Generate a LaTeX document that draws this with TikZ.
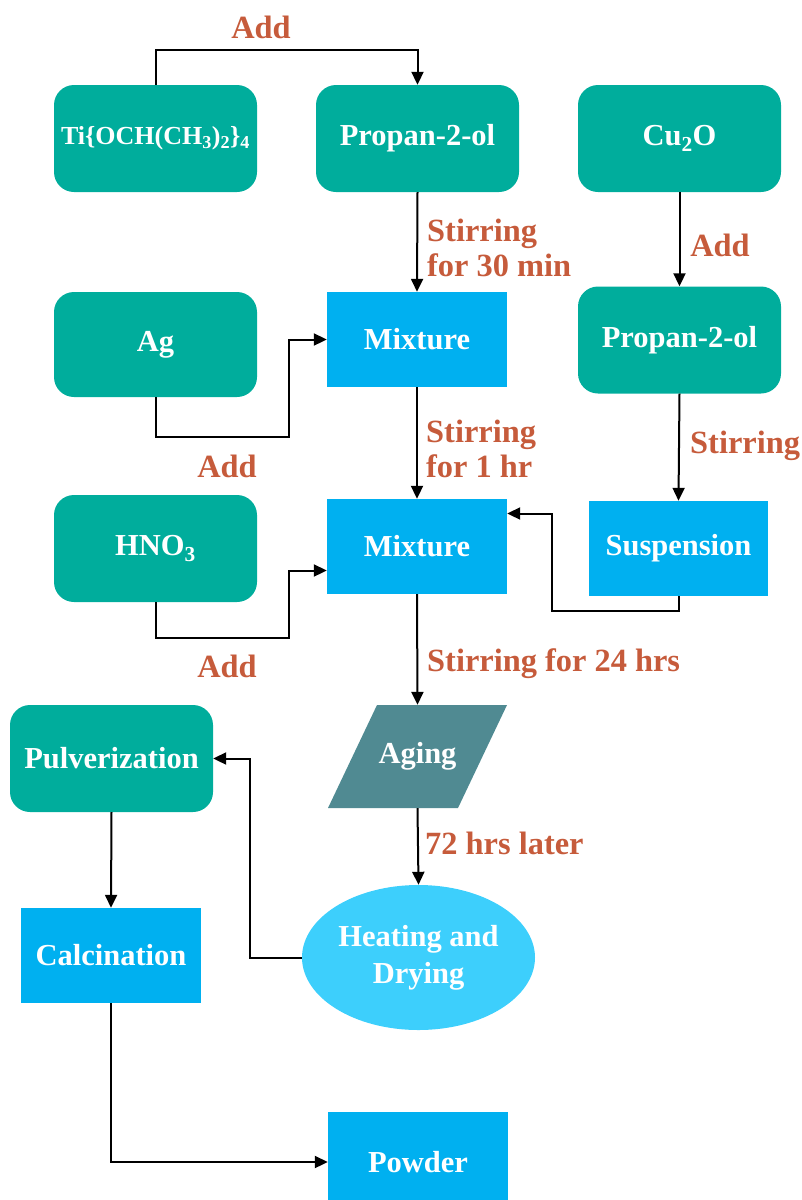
\documentclass[tikz,border=0pt]{standalone}
\usepackage{fontspec}
\setmainfont{Liberation Serif}
\usetikzlibrary{arrows.meta,calc,shapes.geometric}
\definecolor{stepgreen}{HTML}{00AD9C}
\definecolor{stepblue}{HTML}{00B0F0}
\definecolor{agegrey}{HTML}{508A92}
\definecolor{heatcyan}{HTML}{3DCFFC}
\definecolor{notered}{HTML}{C65B3B}
\begin{document}
\begin{tikzpicture}[x=1pt,y=-1pt,
    boxtext/.style={text=white,font=\fontsize{30.5}{37}\selectfont\bfseries,align=center,inner sep=0pt},
    greenbox/.style={boxtext,fill=stepgreen,rounded corners=20pt,minimum width=203pt,minimum height=107pt},
    bluebox/.style={boxtext,fill=stepblue,minimum width=180pt,minimum height=95pt},
    note/.style={text=notered,font=\fontsize{32.4}{35}\selectfont\bfseries,align=left,inner sep=0pt},
    arr/.style={line width=2pt,-{Triangle[length=13pt,width=12pt]}}]
    \useasboundingbox (0,0) rectangle (801,1200);

    % Starting materials
    \node [greenbox,font=\fontsize{26}{30}\selectfont\bfseries] (ti) at (155.5,138.5) {Ti\{OCH(CH\textsubscript{3})\textsubscript{2}\}\textsubscript{4}};
    \node [greenbox] (prop1) at (417.5,138.5) {Propan-2-ol};
    \node [greenbox] (cu2o) at (679.5,138.5) {Cu\textsubscript{2}O};
    \node [greenbox,minimum height=105pt] (ag) at (155.5,344.5) {Ag};
    \node [greenbox] (prop2) at (679.5,340) {Propan-2-ol};
    \node [greenbox] (hno3) at (155.5,548.5) {HNO\textsubscript{3}};

    % Mixtures
    \node [bluebox] (mix1) at (417,339.5) {Mixture};
    \node [bluebox] (mix2) at (417,546.5) {Mixture};
    \node [bluebox,minimum width=179pt] (susp) at (678.5,548.5) {Suspension};

    % Aging (parallelogram) and drying
    \fill[agegrey] (377,705) -- (507,705) -- (458,808) -- (328,808) -- cycle;
    \node [boxtext,minimum width=130pt,minimum height=103pt] (aging) at (417.5,756.5) {Aging};
    \node [boxtext,fill=heatcyan,ellipse,minimum width=233pt,minimum height=145pt] (heat) at (418.5,957.5) {Heating and\\Drying};

    % Final steps
    \node [greenbox] (pulv) at (111.5,758.5) {Pulverization};
    \node [bluebox] (calc) at (111,955.5) {Calcination};
    \node [bluebox,minimum height=100pt] (powder) at (418,1162) {Powder};

    % Straight arrows
    \foreach \a/\b in {prop1/mix1,cu2o/prop2,prop2/susp,mix1/mix2,mix2/aging,aging/heat,pulv/calc} {
        \draw[arr] (\a.south) -- (\b.north);
    }

    % Elbow arrows
    \draw[arr] (ti.north) -- ++(0,-35) -| (prop1.north);
    \draw[arr] (ag.south) -- ++(0,40) -| ($(mix1.west)+(-38,0)$) -- (mix1.west);
    \draw[arr] (hno3.south) -- ++(0,36) -| ($(mix2.west)+(-38,24)$) -- ($(mix2.west)+(0,24)$);
    \draw[arr] (susp.south) -- ++(0,15) -| ($(mix2.east)+(45,-33)$) -- ($(mix2.east)+(0,-33)$);
    \draw[arr] (heat.west) -- ++(-52,0) |- (pulv.east);
    \draw[arr] (calc.south) |- (powder.west);

    % Labels
    \node [note] (addtop) at (261,27) {Add};
    \node [note,anchor=west] (stir30) at (427,248) {Stirring\\for 30 min};
    \node [note] (addcu) at (720,245) {Add};
    \node [note,anchor=west] (stirsus) at (690,446) {Stirring};
    \node [note] (addag) at (227,466) {Add};
    \node [note,anchor=west] (stir1) at (426,449) {Stirring\\for 1 hr};
    \node [note] (addhno) at (227,666) {Add};
    \node [note,anchor=west] (stir24) at (427,664) {Stirring for 24 hrs};
    \node [note,anchor=west] (later) at (425,843) {72 hrs later};
\end{tikzpicture}
\end{document}
